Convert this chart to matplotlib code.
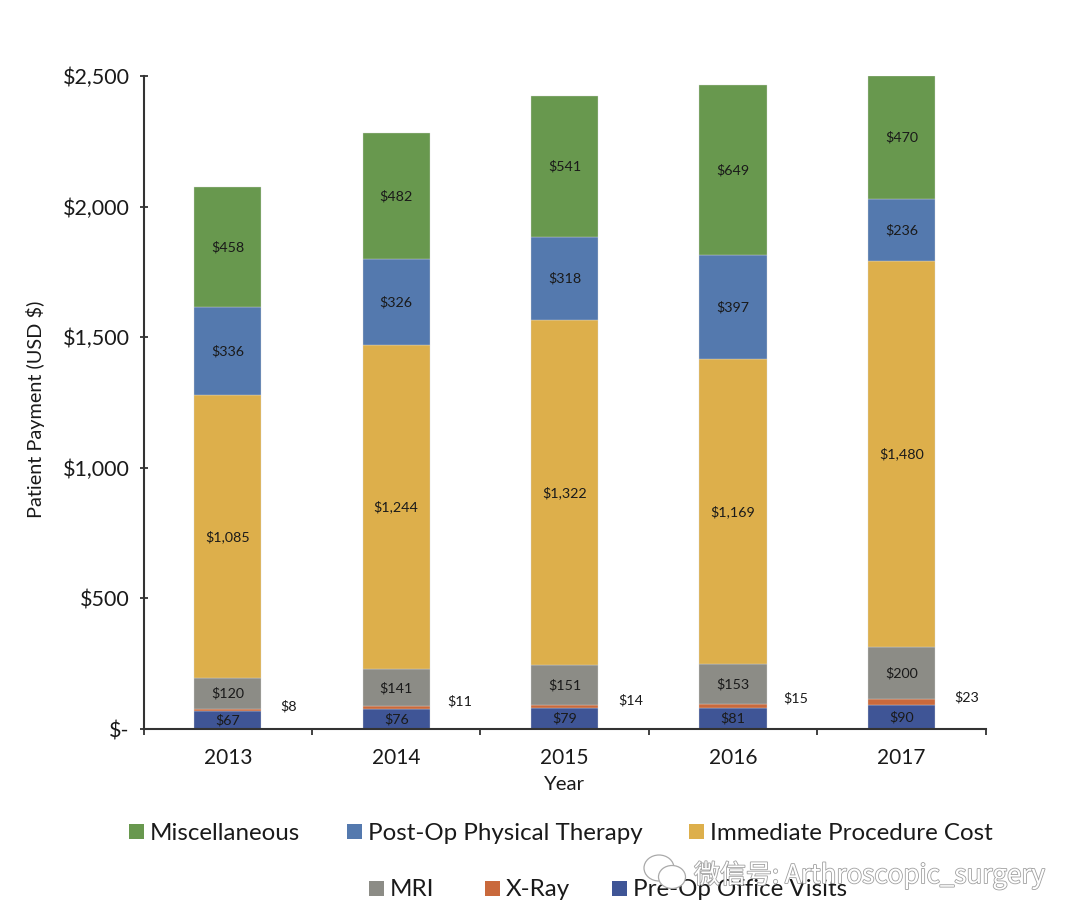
import matplotlib
matplotlib.use("Agg")
import matplotlib.pyplot as plt
from matplotlib.patches import Rectangle, Ellipse
import matplotlib.patheffects as pe
import numpy as np

plt.rcParams['font.family'] = ['Lato', 'DejaVu Sans']

years = ['2013', '2014', '2015', '2016', '2017']
preop = [67, 76, 79, 81, 90]
xray = [8, 11, 14, 15, 23]
mri = [120, 141, 151, 153, 200]
immediate = [1085, 1244, 1322, 1169, 1480]
physical = [336, 326, 318, 397, 236]
misc = [458, 482, 541, 649, 470]

series = [
    ('Pre-Op Office Visits', preop, '#3F5596'),
    ('X-Ray', xray, '#C9693C'),
    ('MRI', mri, '#8C8C86'),
    ('Immediate Procedure Cost', immediate, '#DDAF4B'),
    ('Post-Op Physical Therapy', physical, '#5479AE'),
    ('Miscellaneous', misc, '#68984E'),
]
yticks = [0, 500, 1000, 1500, 2000, 2500]
yticklabels = ['$-', '$500', '$1,000', '$1,500', '$2,000', '$2,500']
xray_offsets = [(61, 4), (64, 6), (66, 6), (63, 8), (65, 5)]

W, H = 1080, 924
fig = plt.figure(figsize=(W / 100, H / 100), dpi=100)
ax = fig.add_axes([143.6 / W, 1 - 729 / H, 842 / W, 653 / H])
x = np.arange(len(years))
bottom = np.zeros(len(years))
for name, vals, color in series:
    vals = np.array(vals)
    ax.bar(x, vals, 0.4, bottom=bottom, color=color, edgecolor='#d9d9d9', linewidth=0.25, label=name)
    centers = bottom + vals / 2
    for i, (xc, yc, v) in enumerate(zip(x, centers, vals)):
        label = f'${v:,}'
        if name == 'X-Ray':
            dx, dy = xray_offsets[i]
            ax.annotate(label, (xc, yc), xytext=(dx * 0.72, dy * 0.72), textcoords='offset points',
                        ha='center', va='center', fontsize=10.3, color='#1a1a1a')
        else:
            ax.text(xc, yc, label, ha='center', va='center', fontsize=10.3, color='#1a1a1a')
    bottom = bottom + vals

ax.set_xlim(-0.5, 4.5)
ax.set_ylim(0, 2500)
ax.set_yticks(yticks, yticklabels, fontsize=15.5, color='#1a1a1a')
ax.set_xticks(x, years, fontsize=15, color='#1a1a1a')
ax.set_xticks(np.arange(-0.5, 5, 1), minor=True)
ax.tick_params(axis='x', which='major', length=0, pad=14)
ax.tick_params(axis='x', which='minor', length=4, width=1.3, color='#333333', direction='out')
ax.tick_params(axis='y', length=6, width=1.3, color='#333333', direction='inout', pad=7)
for s in ('top', 'right'):
    ax.spines[s].set_visible(False)
for s in ('left', 'bottom'):
    ax.spines[s].set_linewidth(1.5)
    ax.spines[s].set_color('#333333')
ax.set_ylabel('Patient Payment (USD $)', fontsize=14.3, color='#1a1a1a', va='center')
ax.yaxis.set_label_coords((36 - 143.6) / 842, (729 - 409) / 653)
ax.set_xlabel('Year', fontsize=14.6, color='#1a1a1a')
ax.xaxis.set_label_coords((564 - 143.6) / 842, -(784 - 729) / 653)
ax.xaxis.label.set_verticalalignment('center')

# legend, built by hand to follow the two centred rows
colors = {n: c for n, _, c in series}
rows = [
    (833, [('Miscellaneous', 129), ('Post-Op Physical Therapy', 347), ('Immediate Procedure Cost', 689)]),
    (890, [('MRI', 369), ('X-Ray', 485), ('Pre-Op Office Visits', 612)]),
]
for ypx, items in rows:
    for name, xpx in items:
        fig.add_artist(Rectangle((xpx / W, 1 - (ypx + 6) / H), 15 / W, 15 / H,
                                 transform=fig.transFigure, facecolor=colors[name], edgecolor='none'))
        fig.text((xpx + 21) / W, 1 - ypx / H, name, ha='left', va='center', fontsize=17.4, color='#1a1a1a')

# watermark
wm = [pe.withStroke(linewidth=1.2, foreground='#a0a0a0')]
fig.text(694 / W, 1 - 875 / H, '微信号: Arthroscopic_surgery', ha='left', va='center',
         fontsize=18.7, color='white', family=['Noto Sans CJK SC', 'DejaVu Sans'], path_effects=wm, zorder=10)
for (cx, cy, w, h) in [(659, 868, 30, 26), (672, 877, 27, 23)]:
    fig.add_artist(Ellipse((cx / W, 1 - cy / H), w / W, h / H, transform=fig.transFigure,
                           facecolor='white', edgecolor='#aaaaaa', linewidth=0.9, zorder=9))

fig.savefig('out.png', dpi=100)
